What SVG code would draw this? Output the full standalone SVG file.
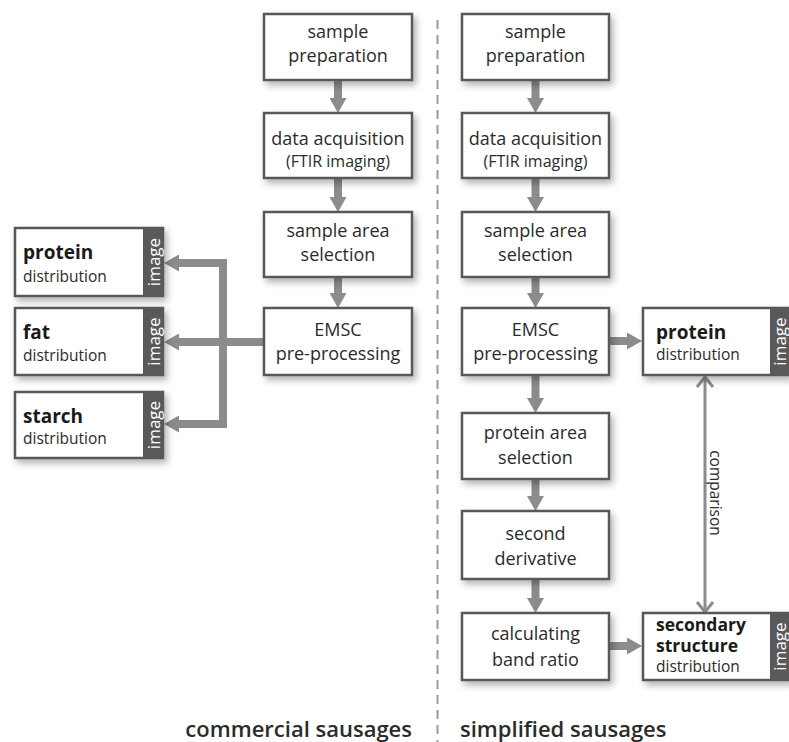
<svg xmlns="http://www.w3.org/2000/svg" width="789" height="742" viewBox="0 0 789 742">
<defs>
<filter id="sh" x="-20%" y="-20%" width="150%" height="150%">
<feDropShadow dx="3" dy="4" stdDeviation="3.5" flood-color="#000" flood-opacity="0.3"/>
</filter>
<marker id="ah" markerUnits="userSpaceOnUse" markerWidth="15" markerHeight="17" viewBox="0 0 15 17" refX="1" refY="8.5" orient="auto-start-reverse">
<path d="M0,0 L15,8.5 L0,17 Z" fill="#8c8c8c"/>
</marker>
<marker id="ch" markerUnits="userSpaceOnUse" markerWidth="14" markerHeight="20" viewBox="-2 -2 14 20" refX="10" refY="8" orient="auto-start-reverse">
<path d="M0,0 L10,8 L0,16" fill="none" stroke="#8c8c8c" stroke-width="3"/>
</marker>
<style>
.box{fill:#fff;stroke:#595959;stroke-width:2.5;filter:url(#sh)}
.strip{fill:#595959}
.t{font-family:"Open Sans","Noto Sans",sans-serif;font-size:18px;fill:#2b2b2b;text-anchor:middle}
.ts{font-size:16px}
.b{font-family:"Open Sans","Noto Sans",sans-serif;font-size:19px;font-weight:700;fill:#1a1a1a}
.b2{font-size:17.5px}
.d{font-family:"Open Sans","Noto Sans",sans-serif;font-size:15.5px;fill:#2b2b2b}
.img{font-family:"Open Sans","Noto Sans",sans-serif;font-size:17px;fill:#fff;text-anchor:middle;dominant-baseline:central}
.arr{fill:none;stroke:#8c8c8c;stroke-width:8;marker-end:url(#ah)}
.lbl{font-family:"Open Sans","Noto Sans",sans-serif;font-size:22px;font-weight:600;fill:#2b2b2b}
</style>
</defs>
<rect width="789" height="742" fill="#fff"/>
<line x1="437.5" y1="20" x2="437.5" y2="742" stroke="#9a9a9a" stroke-width="2" stroke-dasharray="9 6"/>

<g id="connectors">
<line class="arr" x1="338" y1="81" x2="338" y2="99"/>
<line class="arr" x1="338" y1="179" x2="338" y2="198"/>
<line class="arr" x1="338" y1="277" x2="338" y2="294"/>
<path class="arr" d="M178,263 H223 V424 H178" style="marker-start:url(#ah)"/>
<path class="arr" d="M264,342 H178"/>
<line class="arr" x1="535.5" y1="81" x2="535.5" y2="99"/>
<line class="arr" x1="535.5" y1="179" x2="535.5" y2="198"/>
<line class="arr" x1="535.5" y1="277" x2="535.5" y2="294"/>
<line class="arr" x1="535.5" y1="376" x2="535.5" y2="399"/>
<line class="arr" x1="535.5" y1="480" x2="535.5" y2="497"/>
<line class="arr" x1="535.5" y1="580" x2="535.5" y2="599"/>
<line class="arr" x1="610" y1="341" x2="628" y2="341"/>
<line class="arr" x1="610" y1="646" x2="628" y2="646"/>
<path d="M705,377 V612" fill="none" stroke="#8c8c8c" stroke-width="3" marker-start="url(#ch)" marker-end="url(#ch)"/>
<text class="d" font-size="16" transform="translate(710,493) rotate(90)" text-anchor="middle">comparison</text>
</g>

<g id="c-sample-prep">
<rect class="box" x="264" y="14" width="148" height="66"/>
<text class="t" x="338" y="38">sample</text>
<text class="t" x="338" y="62">preparation</text>
</g>
<g id="c-data-acq">
<rect class="box" x="264" y="113" width="148" height="65"/>
<text class="t" x="338" y="145">data acquisition</text>
<text class="t ts" x="338" y="167">(FTIR imaging)</text>
</g>
<g id="c-area-sel">
<rect class="box" x="264" y="212" width="148" height="65"/>
<text class="t" x="338" y="237">sample area</text>
<text class="t" x="338" y="261">selection</text>
</g>
<g id="c-emsc">
<rect class="box" x="264" y="308" width="148" height="67"/>
<text class="t" x="338" y="336">EMSC</text>
<text class="t" x="338" y="360">pre-processing</text>
</g>

<g id="c-protein">
<rect class="box" x="15" y="228" width="148" height="68"/>
<rect class="strip" x="143" y="228" width="20" height="68"/>
<text class="img" transform="translate(153,262) rotate(-90)">image</text>
<text class="b" x="23" y="259">protein</text>
<text class="d" x="23" y="282">distribution</text>
</g>
<g id="c-fat">
<rect class="box" x="15" y="308" width="148" height="67"/>
<rect class="strip" x="143" y="308" width="20" height="67"/>
<text class="img" transform="translate(153,341.5) rotate(-90)">image</text>
<text class="b" x="23" y="339">fat</text>
<text class="d" x="23" y="361">distribution</text>
</g>
<g id="c-starch">
<rect class="box" x="15" y="392" width="148" height="66"/>
<rect class="strip" x="143" y="392" width="20" height="66"/>
<text class="img" transform="translate(153,425) rotate(-90)">image</text>
<text class="b" x="23" y="423">starch</text>
<text class="d" x="23" y="444">distribution</text>
</g>

<g id="s-sample-prep">
<rect class="box" x="462" y="14" width="147" height="66"/>
<text class="t" x="535.5" y="38">sample</text>
<text class="t" x="535.5" y="62">preparation</text>
</g>
<g id="s-data-acq">
<rect class="box" x="462" y="113" width="147" height="65"/>
<text class="t" x="535.5" y="145">data acquisition</text>
<text class="t ts" x="535.5" y="167">(FTIR imaging)</text>
</g>
<g id="s-area-sel">
<rect class="box" x="462" y="212" width="147" height="65"/>
<text class="t" x="535.5" y="237">sample area</text>
<text class="t" x="535.5" y="261">selection</text>
</g>
<g id="s-emsc">
<rect class="box" x="462" y="308" width="147" height="67"/>
<text class="t" x="535.5" y="336">EMSC</text>
<text class="t" x="535.5" y="360">pre-processing</text>
</g>
<g id="s-protein-area">
<rect class="box" x="462" y="413" width="147" height="66"/>
<text class="t" x="535.5" y="439">protein area</text>
<text class="t" x="535.5" y="464">selection</text>
</g>
<g id="s-second-deriv">
<rect class="box" x="462" y="511" width="147" height="68"/>
<text class="t" x="535.5" y="540">second</text>
<text class="t" x="535.5" y="565">derivative</text>
</g>
<g id="s-band-ratio">
<rect class="box" x="462" y="613" width="147" height="67"/>
<text class="t" x="535.5" y="640">calculating</text>
<text class="t" x="535.5" y="666">band ratio</text>
</g>

<g id="s-protein">
<rect class="box" x="643" y="308" width="147" height="67"/>
<rect class="strip" x="770" y="308" width="20" height="67"/>
<text class="img" transform="translate(779,341.5) rotate(-90)">image</text>
<text class="b" x="656" y="339">protein</text>
<text class="d" x="656" y="360">distribution</text>
</g>
<g id="s-secondary">
<rect class="box" x="643" y="613" width="147" height="67"/>
<rect class="strip" x="770" y="613" width="20" height="67"/>
<text class="img" transform="translate(779,646.5) rotate(-90)">image</text>
<text class="b b2" x="656" y="631">secondary</text>
<text class="b b2" x="656" y="652">structure</text>
<text class="d" x="656" y="672">distribution</text>
</g>

<text class="lbl" x="412" y="737" text-anchor="end">commercial sausages</text>
<text class="lbl" x="460" y="737">simplified sausages</text>
</svg>
